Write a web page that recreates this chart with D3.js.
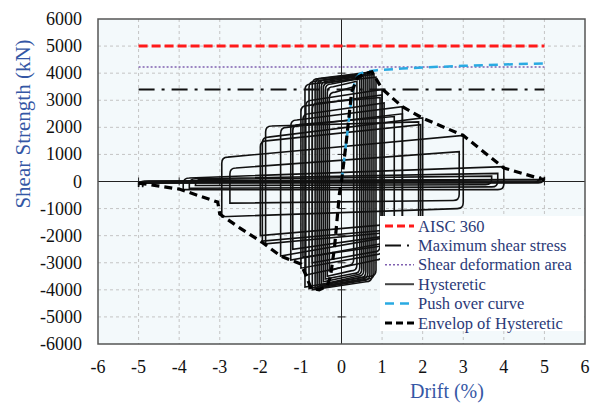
<!DOCTYPE html>
<html>
<head>
<meta charset="utf-8">
<script src="https://cdn.jsdelivr.net/npm/d3@7"></script>
<style>
  body { margin: 0; background: #fff; }
  text { font-family: "Liberation Serif", "Times New Roman", serif; }
</style>
</head>
<body>
<div id="chart"></div>
<script>
const w = 600;
const h = 406;

// tick values
var xTicks = [-6,-5,-4,-3,-2,-1,0,1,2,3,4,5,6];
var yTicks = [-6000,-5000,-4000,-3000,-2000,-1000,0,1000,2000,3000,4000,5000,6000];

// reference lines (kN), drawn from -5 to 5 % drift
var refRange = [-5, 5];
var aisc360 = 5000;
var maxShearStress = 3400;
var shearDeformArea = 4230;

// push over curve [drift %, kN]
var pushOver = [[0,0],[0.1,1250],[0.2,2500],[0.28,3400],[0.35,3800],[0.45,3980],[0.6,4060],[0.87,4110],
                [1.5,4170],[2,4210],[3,4270],[4,4320],[5,4360]];

// envelope of hysteretic [drift %, kN]
var envelope = [[-5,-60],[-4,-280],[-3.05,-760],[-3.0,-1200],[-2.5,-1720],[-2,-2200],[-1.5,-2750],
                [-1.0,-3050],[-0.88,-3450],[-0.75,-3950],[-0.55,-4000],[-0.35,-3850],[-0.27,-3500],
                [-0.17,-2400],[-0.05,-430],[0,0],[0.12,1500],[0.25,3300],[0.4,3850],[0.6,4000],
                [0.75,4050],[1.0,3420],[1.5,2760],[2.0,2340],[3.0,1700],[4.0,500],[5.0,60]];

// hysteretic cycles: drift limits and plateau forces read at the loop ends
var cycleDn       = [-0.30,-0.35,-0.40,-0.45,-0.50,-0.55,-0.60,-0.65,-0.72,-0.80,-0.90,-0.72,-0.88,-1.00,-0.95,-1.25,-1.20,-1.50,-1.87,-1.95,-2.00,-2.95,-2.75,-3.90,-3.75,-3.60,-5.00,-4.90];
var cycleDp       = [ 0.30, 0.38, 0.45, 0.50, 0.55, 0.60, 0.65, 0.70, 0.75, 0.80, 0.85, 0.95, 1.00, 1.00, 1.05, 1.50, 1.30, 1.50, 1.90, 2.00, 1.95, 3.00, 2.90, 4.00, 3.85, 3.70, 5.00, 4.90];
var posStartForce = [ 3300, 3500, 3600, 3650, 3700, 3750, 3750, 3800, 3800, 3700, 3600, 2900, 3000, 2800, 2500, 2270, 2100, 2000, 2050, 1640, 1500,  900,  500,  130,  100,   80,   20,   10];
var posEndForce   = [ 3500, 3700, 3800, 3850, 3900, 3950, 4000, 4000, 4050, 3950, 3850, 3100, 3400, 3200, 2900, 2760, 2400, 2500, 2200, 2350, 2100, 1700, 1100,  550,  300,  200,   80,   60];
var negStartForce = [-3100,-3300,-3400,-3450,-3500,-3550,-3600,-3650,-3700,-3600,-3500,-2600,-2900,-2700,-2400,-2200,-2000,-2000,-1800,-1700,-1500,-1000, -700, -300, -200, -120,  -50,  -30];
var negEndForce   = [-3300,-3500,-3600,-3700,-3800,-3850,-3900,-3950,-4000,-3950,-3900,-3000,-3450,-3200,-2800,-2900,-2500,-2750,-2300,-2200,-2000,-1300, -800, -300, -250, -150,  -60,  -40];

var legendLabels = ["AISC 360","Maximum shear stress","Shear deformation area","Hysteretic","Push over curve","Envelop of Hysteretic"];

var svg = d3.select("#chart").append("svg").attr("width", w).attr("height", h);

var x = d3.scaleLinear().domain([-6,6]).range([98,585]);
var y = d3.scaleLinear().domain([-6000,6000]).range([344,19]);

// plot background
svg.append("rect")
   .attr("x", x(-6)).attr("y", y(6000))
   .attr("width", x(6)-x(-6)).attr("height", y(-6000)-y(6000))
   .attr("fill", "#f3f9fb");

// grid
svg.append("g").selectAll("line").data(xTicks.slice(1,-1)).enter().append("line")
   .attr("x1", d=>x(d)).attr("x2", d=>x(d)).attr("y1", y(6000)).attr("y2", y(-6000))
   .attr("stroke", "#c4c4c4").attr("stroke-dasharray", "3,3");
svg.append("g").selectAll("line").data(yTicks.slice(1,-1)).enter().append("line")
   .attr("y1", d=>y(d)).attr("y2", d=>y(d)).attr("x1", x(-6)).attr("x2", x(6))
   .attr("stroke", "#c4c4c4").attr("stroke-dasharray", "3,3");

// zero axes with crossing ticks
svg.append("line").attr("x1", x(0)).attr("x2", x(0)).attr("y1", y(6000)).attr("y2", y(-6000))
   .attr("stroke", "#222").attr("stroke-width", 1);
svg.append("line").attr("x1", x(-6)).attr("x2", x(6)).attr("y1", y(0)).attr("y2", y(0))
   .attr("stroke", "#222").attr("stroke-width", 1);
svg.append("g").selectAll("line").data(xTicks.slice(1,-1)).enter().append("line")
   .attr("x1", d=>x(d)).attr("x2", d=>x(d)).attr("y1", y(0)-4).attr("y2", y(0)+4)
   .attr("stroke", "#222");
svg.append("g").selectAll("line").data(yTicks.slice(1,-1)).enter().append("line")
   .attr("y1", d=>y(d)).attr("y2", d=>y(d)).attr("x1", x(0)-4).attr("x2", x(0)+4)
   .attr("stroke", "#222");

// hysteretic loops
var r = 6;
var loops = svg.append("g");
cycleDn.forEach(function(dn, i){
  var X1 = x(dn), X2 = x(cycleDp[i]);
  var Yp1 = y(posStartForce[i]), Yp2 = y(posEndForce[i]);
  var Yn2 = y(negStartForce[i]), Yn1 = y(negEndForce[i]);
  var p = d3.path();
  p.moveTo(X1, Yn1);
  p.lineTo(X1, Yp1 + r);
  p.quadraticCurveTo(X1, Yp1, X1 + r, Yp1);
  p.lineTo(X2, Yp2);
  p.lineTo(X2, Yn2 - r);
  p.quadraticCurveTo(X2, Yn2, X2 - r, Yn2);
  p.closePath();
  loops.append("path").attr("d", p.toString())
       .attr("fill", "none").attr("stroke", "#111").attr("stroke-width", 1.6);
});

// reference lines
function hline(v, color, width, dash){
  svg.append("line").attr("x1", x(refRange[0])).attr("x2", x(refRange[1]))
     .attr("y1", y(v)).attr("y2", y(v))
     .attr("stroke", color).attr("stroke-width", width).attr("stroke-dasharray", dash);
}
hline(aisc360, "#ff1a1a", 3, "9,4");
hline(maxShearStress, "#111", 2, "16,7,3,7");
hline(shearDeformArea, "#8060b0", 1.6, "2,2");

var line = d3.line().x(d=>x(d[0])).y(d=>y(d[1]));

svg.append("path").datum(pushOver).attr("d", line)
   .attr("fill", "none").attr("stroke", "#2aaae2").attr("stroke-width", 2.5).attr("stroke-dasharray", "9,6");

svg.append("path").datum(envelope).attr("d", line)
   .attr("fill", "none").attr("stroke", "#000").attr("stroke-width", 3.2).attr("stroke-dasharray", "8,5");

// plot border
svg.append("rect")
   .attr("x", x(-6)).attr("y", y(6000))
   .attr("width", x(6)-x(-6)).attr("height", y(-6000)-y(6000))
   .attr("fill", "none").attr("stroke", "#555").attr("stroke-width", 1.5);

// tick labels
svg.append("g").selectAll("text").data(yTicks).enter().append("text")
   .attr("x", 82).attr("y", d=>y(d)+6)
   .attr("text-anchor", "end").attr("font-size", 18).attr("fill", "#111")
   .text(d=>d);
svg.append("g").selectAll("text").data(xTicks).enter().append("text")
   .attr("x", d=>x(d)).attr("y", 373)
   .attr("text-anchor", "middle").attr("font-size", 18).attr("fill", "#111")
   .text(d=>d);

// axis titles
svg.append("text").attr("x", 447).attr("y", 398)
   .attr("text-anchor", "middle").attr("font-size", 20).attr("fill", "#3557a5")
   .text("Drift (%)");
svg.append("text").attr("transform", "translate(30,124) rotate(-90)")
   .attr("text-anchor", "middle").attr("font-size", 21).attr("fill", "#3557a5")
   .text("Shear Strength (kN)");

// legend
var legend = svg.append("g");
legend.append("rect").attr("x", 380).attr("y", 216).attr("width", 204).attr("height", 115).attr("fill", "#fff");
var legendStyles = [
  {color:"#ff1a1a", width:3, dash:"8,4"},
  {color:"#111", width:2, dash:"16,6,2,6"},
  {color:"#8060b0", width:1.6, dash:"2,2"},
  {color:"#444", width:2, dash:null},
  {color:"#2aaae2", width:2.5, dash:"9,6"},
  {color:"#000", width:3.2, dash:"7,4"}
];
legendLabels.forEach(function(lab, i){
  var yy = 226 + i*19.4;
  legend.append("line").attr("x1", 385).attr("x2", 414).attr("y1", yy).attr("y2", yy)
        .attr("stroke", legendStyles[i].color).attr("stroke-width", legendStyles[i].width)
        .attr("stroke-dasharray", legendStyles[i].dash);
  legend.append("text").attr("x", 418).attr("y", yy + 5.5)
        .attr("font-size", 16.5).attr("fill", "#2b3a78").text(lab);
});
</script>
</body>
</html>
